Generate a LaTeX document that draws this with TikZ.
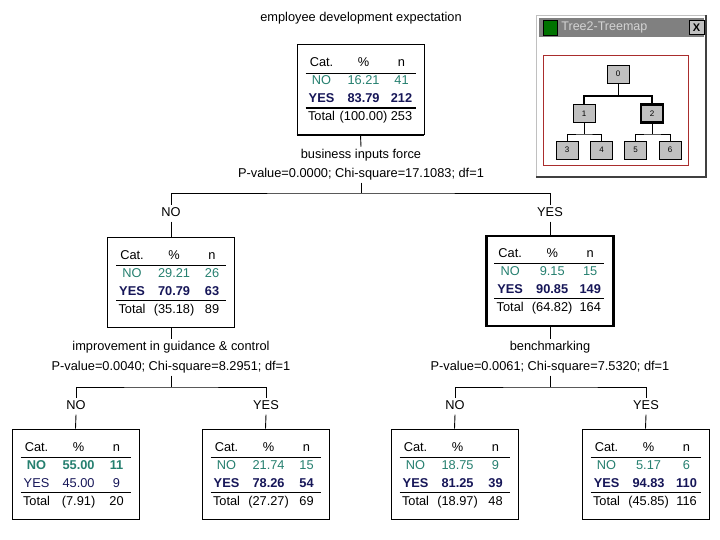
\documentclass[tikz,border=0pt]{standalone}
\usepackage{fontspec}
\setmainfont{Liberation Sans}
\usetikzlibrary{positioning}
\definecolor{nocol}{RGB}{38,128,112}
\definecolor{yescol}{RGB}{22,22,88}
\definecolor{winbar}{RGB}{128,128,128}
\definecolor{wingray}{RGB}{192,192,192}
\definecolor{mapred}{RGB}{170,45,45}
\tikzset{catbox/.style={draw=black,fill=white,minimum width=127pt,minimum height=90pt,inner sep=0pt},
lbl/.style={font=\fontsize{12.8}{14}\selectfont,inner sep=2pt,text height=9.5pt,text depth=2.5pt,yshift=-1.2pt},
cell/.style={font=\fontsize{12.8}{14}\selectfont,inner sep=0pt,text height=9.5pt,text depth=2.5pt,yshift=-1pt},
nolite/.style={text=nocol},nobold/.style={text=nocol,font=\fontsize{12.8}{14}\selectfont\bfseries},
yeslite/.style={text=yescol},yesbold/.style={text=yescol,font=\fontsize{12.8}{14}\selectfont\bfseries},
tmnode/.style={draw=black,fill=wingray,minimum width=22pt,minimum height=18pt,inner sep=0pt,font=\fontsize{8}{9}\selectfont}}

\begin{document}
\begin{tikzpicture}[x=1pt,y=-1pt,line width=0.9pt]
\path[use as bounding box] (0,0) rectangle (720,540);
% main tree
\node[lbl] (title) at (361,17) {employee development expectation};
\node[catbox] (root) at (360.5,89.5) {};
\draw[line width=1.8pt] (root.south west) -- (root.south east);
\node[lbl] (v0) at (361,154) {business inputs force};
\node[lbl] (s0) at (361,173) {P-value=0.0000; Chi-square=17.1083; df=1};
\draw (root.south) -- (v0.north);
\node[lbl] (no0) at (171,212) {NO};
\node[lbl] (yes0) at (550,212) {YES};
\coordinate (b0) at (361,193);
\draw (s0.south) -- (b0);
\draw (no0.north) |- (b0) -| (yes0.north);
\node[catbox] (n1) at (171,282) {};
\node[catbox,line width=2.6pt] (n2) at (550,281) {};
\draw (no0.south) -- (n1.north);
\draw (yes0.south) -- (n2.north);
% second splits
\foreach \p/\xx/\vv/\ss/\ll/\rr/\xl/\xr in {n1/171/improvement in guidance \& control/P-value=0.0040; Chi-square=8.2951; df=1/n3/n4/76/266,
n2/550/benchmarking/P-value=0.0061; Chi-square=7.5320; df=1/n5/n6/455/646}{
\node[lbl] (v\p) at (\xx,346) {\vv};
\node[lbl] (s\p) at (\xx,366) {\ss};
\draw (\p.south) -- (v\p.north);
\coordinate (b\p) at (\xx,387);
\draw (s\p.south) -- (b\p);
\node[lbl] (no\p) at (\xl,405) {NO};
\node[lbl] (yes\p) at (\xr,405) {YES};
\draw (no\p.north) |- (b\p) -| (yes\p.north);
\node[catbox] (\ll) at (\xl-0.5,474) {};
\node[catbox] (\rr) at (\xr-0.5,474) {};
\draw (no\p.south) -- (\ll.north);
\draw (yes\p.south) -- (\rr.north);
}
% table in each box
\foreach \bx/\nos/\yss/\np/\nn/\yp/\yn/\tp/\tn/\rw in {root/nolite/yesbold/16.21/41/83.79/212/100.00/253/1.8pt,
n1/nolite/yesbold/29.21/26/70.79/63/35.18/89/0.9pt, n2/nolite/yesbold/9.15/15/90.85/149/64.82/164/0.9pt,
n3/nobold/yeslite/55.00/11/45.00/9/7.91/20/0.9pt, n4/nolite/yesbold/21.74/15/78.26/54/27.27/69/0.9pt,
n5/nolite/yesbold/18.75/9/81.25/39/18.97/48/0.9pt, n6/nolite/yesbold/5.17/6/94.83/110/45.85/116/0.9pt}{
\begin{scope}[shift={(\bx.north west)}]
\node[cell] (\bx h1) at (25,18) {Cat.};
\node[cell] (\bx h2) at (67,18) {\%};
\node[cell] (\bx h3) at (105,18) {n};
\draw (9,29) -- (119,29);
\node[cell,\nos] (\bx a1) at (25,36) {NO};
\node[cell,\nos] (\bx a2) at (67,36) {\np};
\node[cell,\nos] (\bx a3) at (105,36) {\nn};
\node[cell,\yss] (\bx b1) at (25,54) {YES};
\node[cell,\yss] (\bx b2) at (67,54) {\yp};
\node[cell,\yss] (\bx b3) at (105,54) {\yn};
\draw[line width=\rw] (9,64) -- (119,64);
\node[cell] (\bx t1) at (25,72) {Total};
\node[cell] (\bx t2) at (67,72) {(\tp)};
\node[cell] (\bx t3) at (105,72) {\tn};
\end{scope}
}
% treemap window
\draw[fill=white,draw=wingray] (536,15) rectangle (706,177);
\draw[black!75,line width=1.5pt] (706,15) -- (706,177) -- (536,177);
\fill[winbar] (539,18) rectangle (704,37);
\node[draw=black,fill=green!45!black,minimum width=14pt,minimum height=15pt,inner sep=0pt] (icon) at (550.5,27.5) {};
\node[anchor=west,text=wingray!70!white,font=\fontsize{12.5}{14}\selectfont,inner sep=0pt] (wintitle) at (561,27.5) {Tree2-Treemap};
\node[draw=black,fill=wingray,minimum width=15pt,minimum height=14pt,inner sep=0pt,font=\fontsize{11}{12}\selectfont\bfseries] (winclose) at (696.5,27.5) {X};
\draw[mapred] (543,55) rectangle (688,165);
\node[tmnode] (tm0) at (618,74) {0};
\node[tmnode] (tm1) at (584,113.5) {1};
\node[tmnode,line width=2.2pt] (tm2) at (652,113.5) {2};
\node[tmnode] (tm3) at (567,150) {3};
\node[tmnode] (tm4) at (601.5,150) {4};
\node[tmnode] (tm5) at (635.5,150) {5};
\node[tmnode] (tm6) at (670,150) {6};
\coordinate (tb0) at (618,96);
\coordinate (tb1) at (584,134);
\coordinate (tb2) at (652,134);
\draw (tm0.south) -- (tb0);
\draw[line width=2pt] (tm1.north) |- (tb0) -| (tm2.north);
\draw (tm1.south) -- (tb1);
\draw (tm3.north) |- (tb1) -| (tm4.north);
\draw (tm2.south) -- (tb2);
\draw (tm5.north) |- (tb2) -| (tm6.north);
\end{tikzpicture}
\end{document}
